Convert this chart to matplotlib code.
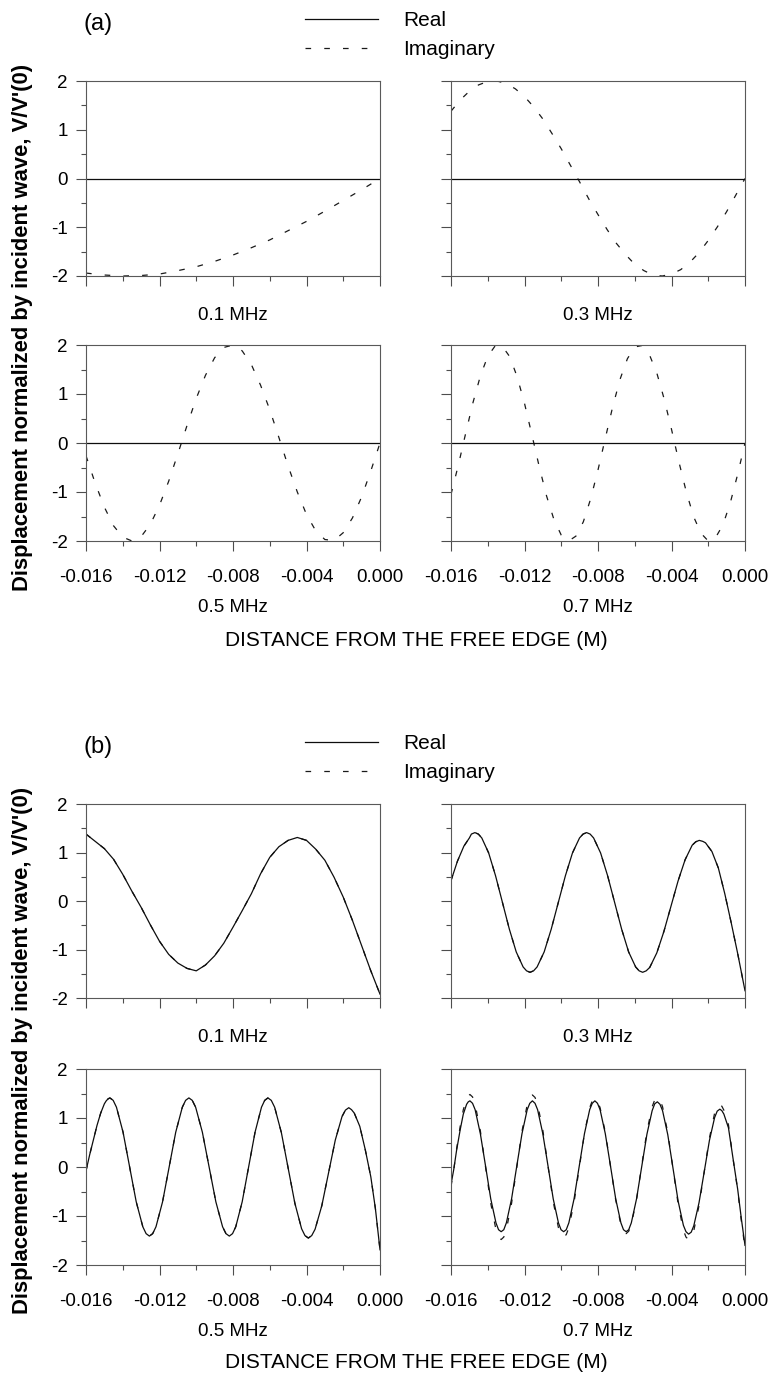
import matplotlib
matplotlib.use("Agg")
import matplotlib.pyplot as plt
from matplotlib.ticker import MultipleLocator, FormatStrFormatter

plt.rcParams["font.family"] = ["Liberation Sans", "DejaVu Sans"]
plt.rcParams["axes.unicode_minus"] = False

freq_labels = ["0.1 MHz", "0.3 MHz", "0.5 MHz", "0.7 MHz"]
x_ticks = [-0.016, -0.012, -0.008, -0.004, 0.0]
y_ticks = [-2, -1, 0, 1, 2]
ylabel = "Displacement normalized by incident wave, V/V'(0)"
xlabel = "DISTANCE FROM THE FREE EDGE (M)"

# sample positions (m)
x_1mm = [-0.016, -0.015, -0.014, -0.013, -0.012, -0.011, -0.010, -0.009, -0.008,
         -0.007, -0.006, -0.005, -0.004, -0.003, -0.002, -0.001, 0.0]
x_05mm = [-0.016, -0.0155, -0.015, -0.0145, -0.014, -0.0135, -0.013, -0.0125, -0.012,
          -0.0115, -0.011, -0.0105, -0.010, -0.0095, -0.009, -0.0085, -0.008, -0.0075,
          -0.007, -0.0065, -0.006, -0.0055, -0.005, -0.0045, -0.004, -0.0035, -0.003,
          -0.0025, -0.002, -0.0015, -0.001, -0.0005, 0.0]
x_04mm = [-0.016, -0.0156, -0.0152, -0.0148, -0.0144, -0.014, -0.0136, -0.0132, -0.0128,
          -0.0124, -0.012, -0.0116, -0.0112, -0.0108, -0.0104, -0.010, -0.0096, -0.0092,
          -0.0088, -0.0084, -0.008, -0.0076, -0.0072, -0.0068, -0.0064, -0.006, -0.0056,
          -0.0052, -0.0048, -0.0044, -0.004, -0.0036, -0.0032, -0.0028, -0.0024, -0.002,
          -0.0016, -0.0012, -0.0008, -0.0004, 0.0]

# ---- (a): real part stays at zero ----
x_real_a = [-0.016, 0.0]
real_a = [0.0, 0.0]

imag_a_01 = [-1.94, -1.98, -2.00, -1.99, -1.96, -1.89, -1.81, -1.70, -1.57, -1.42,
             -1.26, -1.07, -0.88, -0.67, -0.45, -0.23, 0.0]
imag_a_03 = [1.38, 1.61, 1.79, 1.92, 1.99, 2.00, 1.95, 1.84, 1.68, 1.47,
             1.22, 0.92, 0.61, 0.27, -0.07, -0.42, -0.74, -1.05, -1.33, -1.56,
             -1.76, -1.89, -1.98, -2.00, -1.96, -1.87, -1.72, -1.52, -1.27, -0.99,
             -0.68, -0.34, 0.0]
imag_a_05 = [-0.26, -0.82, -1.31, -1.69, -1.92, -2.00, -1.91, -1.66, -1.27, -0.78,
             -0.22, 0.36, 0.91, 1.38, 1.74, 1.95, 2.00, 1.88, 1.60, 1.18,
             0.68, 0.11, -0.47, -1.00, -1.46, -1.79, -1.97, -1.99, -1.83, -1.53,
             -1.10, -0.57, 0.0]
imag_a_07 = [-1.05, -0.45, 0.20, 0.83, 1.37, 1.77, 1.98, 1.97, 1.76, 1.35,
             0.81, 0.17, -0.48, -1.08, -1.56, -1.88, -2.00, -1.90, -1.61, -1.14,
             -0.55, 0.10, 0.74, 1.30, 1.72, 1.96, 1.99, 1.80, 1.43, 0.90,
             0.28, -0.38, -0.99, -1.50, -1.84, -2.00, -1.93, -1.67, -1.22, -0.64, 0.0]

# ---- (b) ----
real_b_01 = [1.38, 1.23, 1.08, 0.86, 0.55, 0.20, -0.13, -0.49, -0.83, -1.10,
             -1.28, -1.39, -1.44, -1.32, -1.13, -0.87, -0.54, -0.20, 0.15, 0.56,
             0.90, 1.12, 1.25, 1.31, 1.25, 1.07, 0.84, 0.49, 0.08, -0.40,
             -0.92, -1.44, -1.92]

x_b_03 = [-0.016, -0.01565, -0.0153, -0.015, -0.01489, -0.0147,
          -0.0145125, -0.014325, -0.01395, -0.013575, -0.0132, -0.012825, -0.01245, -0.012075, -0.0118875, -0.0117,
          -0.0115075, -0.011315, -0.01093, -0.010545, -0.01016, -0.009775, -0.00939, -0.009005, -0.0088125, -0.00862,
          -0.008429, -0.008239, -0.007858, -0.007476, -0.007095, -0.006714, -0.006333, -0.005951, -0.005761, -0.00557,
          -0.0053775, -0.005185, -0.0048, -0.004415, -0.00403, -0.003645, -0.00326, -0.002875, -0.0026825, -0.00249,
          -0.0023, -0.00215, -0.0018, -0.00145, -0.0011, -0.00075, -0.0004, 0.0]
real_b_03 = [0.42, 0.82, 1.13, 1.30, 1.38, 1.41,
             1.38, 1.30, 0.99, 0.52, -0.03, -0.58, -1.05, -1.36, -1.44, -1.47,
             -1.44, -1.36, -1.05, -0.58, -0.03, 0.52, 0.99, 1.30, 1.38, 1.41,
             1.38, 1.30, 0.99, 0.52, -0.03, -0.58, -1.05, -1.36, -1.44, -1.47,
             -1.44, -1.37, -1.07, -0.63, -0.11, 0.41, 0.85, 1.15, 1.22, 1.25,
             1.23, 1.20, 1.02, 0.68, 0.15, -0.45, -1.08, -1.85]

x_b_05 = [-0.016, -0.0158, -0.0156, -0.0154, -0.0152, -0.015, -0.0149, -0.0148, -0.0147,
          -0.014521, -0.014342, -0.013983, -0.013625, -0.013267, -0.012908, -0.012729, -0.01255,
          -0.012371, -0.012192, -0.011833, -0.011475, -0.011117, -0.010758, -0.010579, -0.0104,
          -0.010217, -0.010033, -0.009667, -0.0093, -0.008933, -0.008567, -0.008383, -0.0082,
          -0.008025, -0.00785, -0.0075, -0.00715, -0.0068, -0.00645, -0.006275, -0.0061,
          -0.005917, -0.005733, -0.005367, -0.005, -0.004633, -0.004267, -0.004083, -0.0039,
          -0.003717, -0.003533, -0.003167, -0.0028, -0.002433, -0.002067, -0.001883, -0.0017,
          -0.00155, -0.0014, -0.0011, -0.0008, -0.0005, -0.00025, 0.0]
real_b_05 = [-0.08, 0.25, 0.55, 0.85, 1.10, 1.29, 1.35, 1.39, 1.41,
             1.36, 1.22, 0.71, 0.0, -0.71, -1.22, -1.36, -1.41,
             -1.36, -1.22, -0.71, 0.0, 0.71, 1.22, 1.36, 1.41,
             1.36, 1.22, 0.71, 0.0, -0.71, -1.22, -1.36, -1.41,
             -1.36, -1.22, -0.71, 0.0, 0.71, 1.22, 1.36, 1.41,
             1.36, 1.22, 0.70, -0.02, -0.74, -1.26, -1.40, -1.45,
             -1.40, -1.27, -0.79, -0.12, 0.55, 1.03, 1.16, 1.21,
             1.17, 1.10, 0.83, 0.35, -0.20, -0.85, -1.69]

x_b_07 = [-0.016, -0.01585, -0.0157, -0.0155, -0.01533, -0.01515, -0.01506, -0.01497,
          -0.014828, -0.014687, -0.014403, -0.01412, -0.013837, -0.013553, -0.013412, -0.01327,
          -0.013128, -0.012987, -0.012703, -0.01242, -0.012137, -0.011853, -0.011712, -0.01157,
          -0.011428, -0.011287, -0.011003, -0.01072, -0.010437, -0.010153, -0.010012, -0.00987,
          -0.009728, -0.009587, -0.009303, -0.00902, -0.008737, -0.008453, -0.008312, -0.00817,
          -0.008028, -0.007887, -0.007603, -0.00732, -0.007037, -0.006753, -0.006612, -0.00647,
          -0.006328, -0.006187, -0.005903, -0.00562, -0.005337, -0.005053, -0.004912, -0.00477,
          -0.004628, -0.004487, -0.004203, -0.00392, -0.003637, -0.003353, -0.003212, -0.00307,
          -0.002928, -0.002787, -0.002503, -0.00222, -0.001937, -0.001653, -0.001512, -0.00137,
          -0.00126, -0.00115, -0.0009, -0.00065, -0.0004, -0.0002, 0.0]
real_b_07 = [-0.36, -0.05, 0.33, 0.76, 1.08, 1.28, 1.33, 1.35,
             1.30, 1.17, 0.68, 0.02, -0.65, -1.14, -1.28, -1.32,
             -1.28, -1.14, -0.65, 0.02, 0.68, 1.17, 1.30, 1.35,
             1.30, 1.17, 0.68, 0.02, -0.65, -1.14, -1.28, -1.32,
             -1.28, -1.14, -0.65, 0.02, 0.68, 1.17, 1.30, 1.35,
             1.30, 1.17, 0.68, 0.02, -0.65, -1.14, -1.28, -1.32,
             -1.28, -1.14, -0.65, 0.01, 0.67, 1.15, 1.29, 1.33,
             1.28, 1.15, 0.66, -0.02, -0.70, -1.19, -1.32, -1.37,
             -1.33, -1.20, -0.73, -0.10, 0.54, 1.01, 1.14, 1.18,
             1.15, 1.08, 0.80, 0.17, -0.45, -1.05, -1.60]
imag_b_07 = [-0.40, -0.06, 0.36, 0.83, 1.17, 1.39, 1.45, 1.48,
             1.43, 1.28, 0.74, 0.00, -0.74, -1.28, -1.43, -1.48,
             -1.43, -1.28, -0.74, -0.01, 0.73, 1.27, 1.42, 1.47,
             1.42, 1.28, 0.75, 0.02, -0.71, -1.24, -1.38, -1.43,
             -1.38, -1.24, -0.72, -0.02, 0.69, 1.21, 1.35, 1.40,
             1.35, 1.21, 0.71, 0.02, -0.67, -1.18, -1.31, -1.36,
             -1.31, -1.17, -0.67, 0.03, 0.73, 1.23, 1.37, 1.42,
             1.37, 1.23, 0.70, -0.03, -0.76, -1.29, -1.43, -1.48,
             -1.43, -1.30, -0.79, -0.10, 0.59, 1.10, 1.23, 1.28,
             1.24, 1.16, 0.86, 0.17, -0.47, -1.10, -1.65]
# at 0.1-0.5 MHz the imaginary part lies on top of the real part
imag_b_01 = real_b_01
imag_b_03 = real_b_03
imag_b_05 = real_b_05

panel_a = [
    (x_real_a, real_a, x_1mm, imag_a_01),
    (x_real_a, real_a, x_05mm, imag_a_03),
    (x_real_a, real_a, x_05mm, imag_a_05),
    (x_real_a, real_a, x_04mm, imag_a_07),
]
panel_b = [
    (x_05mm, real_b_01, x_05mm, imag_b_01),
    (x_b_03, real_b_03, x_b_03, imag_b_03),
    (x_b_05, real_b_05, x_b_05, imag_b_05),
    (x_b_07, real_b_07, x_b_07, imag_b_07),
]

W, H = 772, 1382
fig = plt.figure(figsize=(W / 100, H / 100), dpi=100)


def rect(l, t, r, b):
    return [l / W, 1 - b / H, (r - l) / W, (b - t) / H]


cols = [(86, 380), (451, 745)]
dash = (0, (4.5, 10.5))


def style(ax, left_col, bottom_row):
    ax.set_xlim(-0.016, 0.0)
    ax.set_ylim(-2, 2)
    ax.set_xticks(x_ticks)
    ax.set_yticks(y_ticks)
    ax.xaxis.set_minor_locator(MultipleLocator(0.002))
    ax.yaxis.set_minor_locator(MultipleLocator(0.5))
    ax.xaxis.set_major_formatter(FormatStrFormatter("%.3f"))
    ax.tick_params(which="major", direction="out", length=7, width=0.8,
                   color="0.3", labelsize=13.5)
    ax.tick_params(which="minor", direction="out", length=3.6, width=0.8, color="0.3")
    ax.tick_params(axis="x", pad=13, labelbottom=bottom_row)
    ax.tick_params(axis="y", pad=6, labelleft=left_col)
    for s in ax.spines.values():
        s.set_linewidth(0.8)
        s.set_color("0.35")


def draw_panel(data, rows, tag, y_off):
    lines = None
    for i, (xr, yr, xi, yi) in enumerate(data):
        r, c = divmod(i, 2)
        top, bot = rows[r]
        ax = fig.add_axes(rect(cols[c][0], top, cols[c][1], bot))
        li, = ax.plot(xi, yi, color="0.1", lw=0.9, linestyle=dash, label="Imaginary")
        lr, = ax.plot(xr, yr, color="0.05", lw=0.9, label="Real")
        style(ax, c == 0, r == 1)
        h = bot - top
        off = 66 if r == 1 else 40
        ax.text(0.5, -off / h, freq_labels[i], transform=ax.transAxes,
                ha="center", va="center", fontsize=13.5)
        if lines is None:
            lines = (lr, li)
    fig.legend(lines, ["Real", "Imaginary"], loc="upper left",
               bbox_to_anchor=(305 / W, 1 - (y_off + 11) / H), frameon=False,
               fontsize=15, borderaxespad=0, borderpad=0, handlelength=3.5,
               handletextpad=1.2, labelspacing=0.5)
    fig.text(98 / W, 1 - (y_off + 24) / H, tag, ha="center", va="center", fontsize=17)
    fig.text(23 / W, 1 - (y_off + 327) / H, ylabel, rotation=90, ha="center",
             va="center", fontsize=15.8, fontweight="bold")
    fig.text(416 / W, 1 - (y_off + 640) / H, xlabel, ha="center", va="center",
             fontsize=15)


draw_panel(panel_a, [(81, 276), (345, 541)], "(a)", 0)
draw_panel(panel_b, [(804, 998), (1069, 1265)], "(b)", 723)

fig.savefig("out.png", dpi=100)
